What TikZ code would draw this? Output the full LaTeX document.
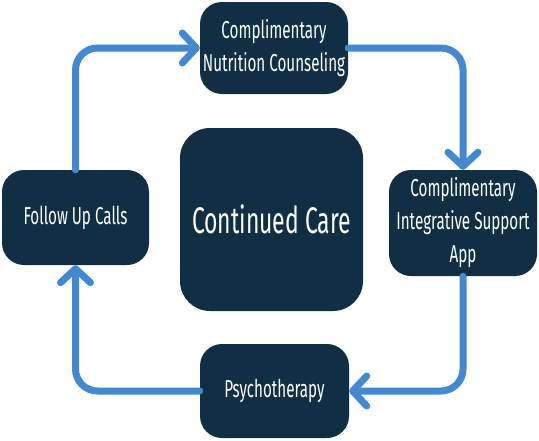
\documentclass[tikz,border=0pt]{standalone}
\usepackage{fontspec}
\setmainfont{Fira Sans}[FakeStretch=0.62]
\usepackage{tikz}
\usetikzlibrary{arrows.meta}

\begin{document}
\begin{tikzpicture}
		[x=1pt,y=-1pt,line cap=round,
		%Styles
		step box/.style={fill=boxcolor,text=white,rounded corners=22pt,align=center,
			inner sep=0pt,font=\fontsize{24.5}{33}\selectfont},
		flow line/.style={line width=7pt,draw=flowcolor,rounded corners=22pt,
			-{Straight Barb[length=14pt,width=30pt,line width=7pt,round]}}
		]
		
		%Colors
		\definecolor{boxcolor}{RGB}{16,46,68}
		\definecolor{flowcolor}{RGB}{66,137,207}
		
		\useasboundingbox (0,0) rectangle (539,440);
		
		%The graphic
		\node[step box,minimum width=148pt,minimum height=92pt] (nutrition) at (274,48)
			{Complimentary\\Nutrition Counseling};
		\node[step box,minimum width=148pt,minimum height=106pt] (app) at (463,223)
			{Complimentary\\Integrative Support\\App};
		\node[step box,minimum width=149pt,minimum height=94pt] (psycho) at (274.5,391)
			{Psychotherapy};
		\node[step box,minimum width=147pt,minimum height=95pt] (calls) at (75.5,217.5)
			{Follow Up Calls};
		\node[step box,rounded corners=30pt,minimum width=183pt,minimum height=183pt,
			font=\fontsize{37}{40}\selectfont] (care) at (271.5,219.5) {Continued Care};
		
		\draw[flow line] (calls.north) |- (nutrition.west);
		\draw[flow line] (nutrition.east) -| (app.north);
		\draw[flow line] (app.south) |- (psycho.east);
		\draw[flow line] (psycho.west) -| (calls.south);
	\end{tikzpicture}
\end{document}
